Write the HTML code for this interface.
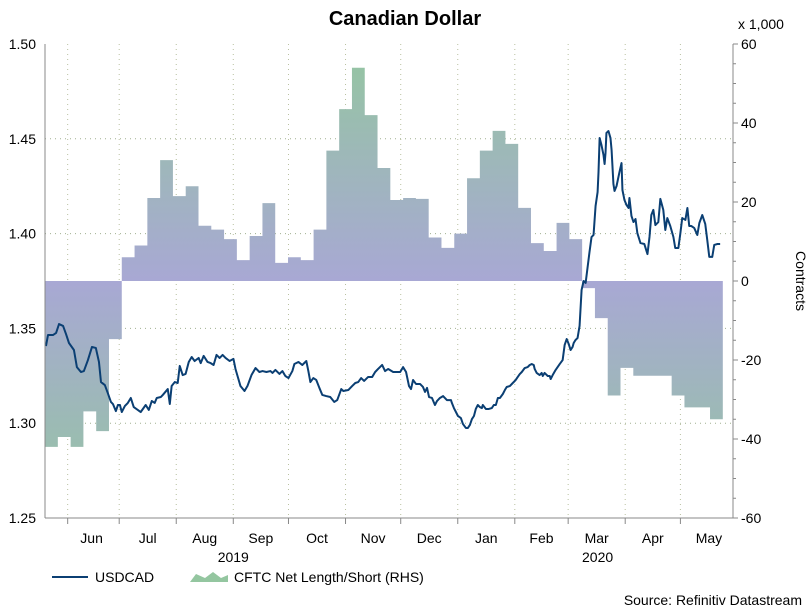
<!DOCTYPE html>
<html><head><meta charset="utf-8">
<style>
body{margin:0;background:#fff;font-family:"Liberation Sans",sans-serif;}
svg{display:block}
text{font-family:"Liberation Sans",sans-serif;fill:#000}
</style></head>
<body>
<svg id="chart" width="811" height="609" viewBox="0 0 811 609">
<defs>
<linearGradient id="ag" gradientUnits="userSpaceOnUse" x1="0" y1="44" x2="0" y2="518">
<stop offset="0" stop-color="#94c6a0"/>
<stop offset="0.5" stop-color="#a8a8d4"/>
<stop offset="1" stop-color="#94c6a0"/>
</linearGradient>
</defs>
<text x="405" y="25" text-anchor="middle" font-size="20" font-weight="bold">Canadian Dollar</text>
<g id="grid"></g>
<g id="area"></g>
<g id="line"></g>
<g id="axes"></g>
<text x="738" y="29" font-size="14">x 1,000</text>
<text transform="translate(796,281) rotate(90)" text-anchor="middle" font-size="14">Contracts</text>
<g>
<line x1="52" y1="577" x2="88" y2="577" stroke="#0b3f73" stroke-width="2"/>
<text x="95" y="582" font-size="14">USDCAD</text>
<path d="M190,582 L196,574 L205,578 L213,572 L221,578 L228,575 L228,582 Z" fill="url(#ag)"/>
<text x="234" y="582" font-size="14">CFTC Net Length/Short (RHS)</text>
</g>
<text x="802" y="605" text-anchor="end" font-size="14">Source: Refinitiv Datastream</text>
</svg>
<script>
const cftcStartDay = -10.3;
const cftcStepDays = 6.95;
const cftcValues = [-42,-39.5,-42,-33,-38,-14.7,6,9,21,30.6,21.5,24,14,13,10.6,5.3,11.4,19.7,4.6,6,5.3,13,33,43.5,54,42,28.6,20.5,21,20.8,11,8.4,12,26,33,38,34.7,18.5,9.6,7.6,14.7,10.6,-1.8,-9.4,-29,-22,-24,-24,-24,-29,-32,-32,-35];
const priceDays = [-9.8,-8.7,-6.0,-4.3,-2.7,-0.5,1.1,2.7,5.4,7.0,9.2,10.8,13.0,15.2,17.3,19.0,20.1,22.2,23.8,25.5,26.6,28.2,29.3,30.4,31.4,33.1,34.7,36.3,37.9,40.1,41.7,44.4,46.1,47.7,49.3,50.4,52.6,53.7,56.4,57.5,58.5,60.2,61.8,62.9,64.5,66.1,67.8,69.4,71.0,73.2,74.3,75.9,78.0,79.7,81.3,82.9,84.6,86.2,87.8,90.0,92.1,93.2,95.9,98.1,99.7,101.9,104.1,106.2,107.9,110.0,112.2,113.3,114.9,117.1,118.7,120.3,122.0,124.1,125.2,127.4,129.5,131.7,132.8,133.9,135.5,137.1,138.8,140.4,142.5,144.7,146.9,148.5,150.7,151.8,154.5,156.6,158.3,159.9,161.5,163.1,165.3,167.5,169.1,170.7,172.9,174.5,176.2,178.9,182.7,184.3,185.9,187.5,188.6,189.7,191.3,193.5,195.1,196.2,197.3,198.4,200.0,201.6,202.7,204.3,206.0,208.1,210.3,210.8,211.9,213.0,214.1,215.7,216.8,218.4,219.5,220.6,221.7,222.8,223.8,224.9,226.0,227.1,227.6,229.3,230.9,232.5,233.6,234.7,235.8,236.9,238.5,239.6,240.6,242.3,243.9,245.5,246.6,247.7,248.8,250.4,252.0,253.1,254.2,255.3,255.8,256.9,258.5,259.6,260.2,261.2,262.9,264.0,264.5,265.6,267.2,269.4,271.0,272.1,273.2,274.3,275.3,276.4,277.0,278.0,279.1,280.2,281.3,282.4,283.5,285.6,286.7,287.8,288.9,290.0,290.5,291.1,292.1,293.2,293.8,294.3,294.8,295.9,297.0,297.6,298.6,299.2,300.3,301.9,303.0,303.5,304.6,305.7,306.8,307.3,308.4,309.5,310.6,311.6,313.3,315.4,317.1,318.2,319.2,320.3,321.4,323.0,324.1,325.7,326.8,327.9,329.5,331.2,332.2,333.9,335.0,336.0,337.7,338.8,339.8,340.9,342.5,344.2,345.3,346.9,348.5,349.6,350.7,352.3,353.4,355.0,356.6];
const priceValues = [1.3407,1.3465,1.3465,1.3476,1.3523,1.3513,1.3470,1.3423,1.3386,1.3296,1.3270,1.3275,1.3333,1.3402,1.3397,1.3323,1.3217,1.3201,1.3159,1.3112,1.3101,1.3064,1.3096,1.3096,1.3059,1.3091,1.3107,1.3133,1.3085,1.3070,1.3059,1.3096,1.3070,1.3117,1.3107,1.3133,1.3138,1.3149,1.3180,1.3101,1.3196,1.3217,1.3212,1.3302,1.3254,1.3260,1.3323,1.3349,1.3328,1.3344,1.3317,1.3355,1.3323,1.3317,1.3307,1.3360,1.3344,1.3360,1.3344,1.3328,1.3339,1.3286,1.3196,1.3170,1.3196,1.3254,1.3291,1.3270,1.3275,1.3270,1.3275,1.3265,1.3281,1.3260,1.3275,1.3249,1.3238,1.3275,1.3312,1.3323,1.3307,1.3328,1.3275,1.3217,1.3238,1.3228,1.3186,1.3149,1.3143,1.3138,1.3112,1.3122,1.3180,1.3170,1.3175,1.3196,1.3212,1.3217,1.3238,1.3223,1.3244,1.3244,1.3270,1.3286,1.3307,1.3275,1.3286,1.3270,1.3270,1.3296,1.3270,1.3196,1.3180,1.3228,1.3207,1.3207,1.3191,1.3165,1.3186,1.3138,1.3133,1.3096,1.3117,1.3133,1.3143,1.3122,1.3122,1.3107,1.3080,1.3059,1.3038,1.3027,1.2996,1.2975,1.2975,1.2991,1.3022,1.3038,1.3075,1.3096,1.3085,1.3080,1.3096,1.3075,1.3075,1.3080,1.3096,1.3096,1.3133,1.3133,1.3154,1.3175,1.3191,1.3196,1.3212,1.3228,1.3244,1.3259,1.3270,1.3291,1.3296,1.3307,1.3312,1.3307,1.3286,1.3265,1.3254,1.3265,1.3249,1.3265,1.3249,1.3249,1.3233,1.3254,1.3281,1.3312,1.3333,1.3413,1.3444,1.3418,1.3386,1.3402,1.3423,1.3439,1.3449,1.3513,1.3703,1.3750,1.3740,1.3903,1.3982,1.3993,1.4146,1.4219,1.4325,1.4504,1.4467,1.4415,1.4367,1.4425,1.4531,1.4541,1.4504,1.4441,1.4262,1.4225,1.4251,1.4325,1.4372,1.4230,1.4177,1.4151,1.4135,1.4188,1.4093,1.4061,1.4077,1.4003,1.3950,1.3945,1.3892,1.3982,1.4098,1.4125,1.4045,1.4061,1.4183,1.4125,1.4019,1.4082,1.4040,1.3982,1.3924,1.3924,1.4003,1.4082,1.4072,1.4135,1.4040,1.4040,1.4030,1.3993,1.4056,1.4098,1.4051,1.3966,1.3877,1.3877,1.3940,1.3945,1.3945];
const leftTicks = [1.25,1.30,1.35,1.40,1.45,1.50];
const rightTicks = [-60,-40,-20,0,20,40,60];
const monthLabels = ["Jun","Jul","Aug","Sep","Oct","Nov","Dec","Jan","Feb","Mar","Apr","May"];
const monthStartDays = [0,30,61,92,122,153,183,214,245,274,305,335];
const gridDays = [2,30,61,92,122,153,183,214,245,274,305,335];
const yearLabels = [["2019",92],["2020",290]];

const NS="http://www.w3.org/2000/svg";
const L=45,R=733,T=44,B=518;
const xS=d=>64+d*1.84;
const yL=v=>T+(1.5-v)/0.25*(B-T);
const yR=v=>T+(60-v)/120*(B-T);
function mk(tag,attrs,parent){const e=document.createElementNS(NS,tag);for(const k in attrs)e.setAttribute(k,attrs[k]);parent.appendChild(e);return e;}
const grid=document.getElementById('grid'),area=document.getElementById('area'),line=document.getElementById('line'),axes=document.getElementById('axes');

leftTicks.forEach(v=>{
  if(v>1.25&&v<1.5){const g=mk('line',{x1:L,x2:R,y1:yL(v),y2:yL(v),stroke:'#a0b090','stroke-dasharray':'1 4'},grid);
  
  }
  const t=mk('text',{x:L-9,y:yL(v)+5,'text-anchor':'end','font-size':14},axes);t.textContent=v.toFixed(2);
  
  
});
rightTicks.forEach(v=>{
  const t=mk('text',{x:R+8,y:yR(v)+5,'font-size':14},axes);t.textContent=v;
  
  
  mk('line',{x1:R,x2:R+5,y1:yR(v),y2:yR(v),stroke:'#888'},axes);
});
for(let v=-60;v<=60;v+=5){mk('line',{x1:R,x2:R+3,y1:yR(v),y2:yR(v),stroke:'#888'},axes);}
gridDays.forEach(d=>{
  const g=mk('line',{x1:xS(d),x2:xS(d),y1:T,y2:B,stroke:'#b8c0a0','stroke-dasharray':'1 4'},grid);
  
  
  mk('line',{x1:xS(d),x2:xS(d),y1:B,y2:B+6,stroke:'#888'},axes);
});
monthLabels.forEach((m,i)=>{
  const next=i<11?monthStartDays[i+1]:366;
  const t=mk('text',{x:xS((monthStartDays[i]+next)/2),y:543,'text-anchor':'middle','font-size':14},axes);t.textContent=m;
  
  
});
yearLabels.forEach(([y,d])=>{
  const t=mk('text',{x:xS(d),y:562,'text-anchor':'middle','font-size':14},axes);t.textContent=y;
  
  
});
const la=mk('line',{x1:L,x2:L,y1:T,y2:B,stroke:'#888'},axes);


const ra=mk('line',{x1:R,x2:R,y1:T,y2:B,stroke:'#888'},axes);


const ba=mk('line',{x1:L,x2:R,y1:B,y2:B,stroke:'#888'},axes);



let d='M'+xS(cftcStartDay)+','+yR(0);
cftcValues.forEach((v,i)=>{
  const x0=xS(cftcStartDay+i*cftcStepDays),x1=xS(cftcStartDay+(i+1)*cftcStepDays);
  d+=' L'+x0+','+yR(v)+' L'+x1+','+yR(v);
});
d+=' L'+xS(cftcStartDay+cftcValues.length*cftcStepDays)+','+yR(0)+' Z';
const ap=mk('path',{d:d,fill:'url(#ag)'},area);



const pts=priceDays.map((dd,i)=>xS(dd)+','+yL(priceValues[i])).join(' ');
const pl=mk('polyline',{points:pts,fill:'none',stroke:'#0b3f73','stroke-width':2,'stroke-linejoin':'round'},line);


</script>
</body></html>
